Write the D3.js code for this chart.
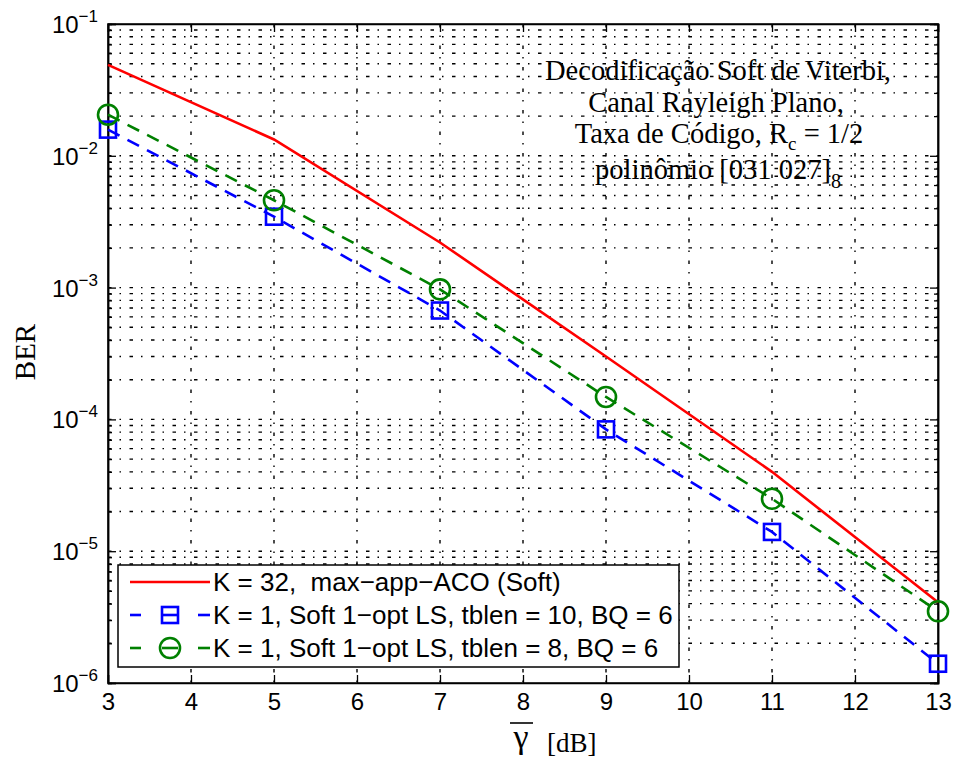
<!DOCTYPE html>
<html>
<head>
<meta charset="utf-8">
<script src="https://cdn.jsdelivr.net/npm/d3@7"></script>
<style>
  body { margin: 0; background: #fff; }
  svg text { fill: #000; }
</style>
</head>
<body>
<div id="chart"></div>
<script>
// SNR values (dB)
const snr = [3, 5, 7, 9, 11, 13];
// BER curves
const berAco = [4.9e-2, 1.33e-2, 2.2e-3, 3.0e-4, 4.0e-5, 4.1e-6];
const berTblen10 = [1.58e-2, 3.45e-3, 6.7e-4, 8.4e-5, 1.4e-5, 1.4e-6];
const berTblen8 = [2.05e-2, 4.6e-3, 9.7e-4, 1.48e-4, 2.5e-5, 3.5e-6];
const xTicks = [3, 4, 5, 6, 7, 8, 9, 10, 11, 12, 13];
const yDecades = [-6, -5, -4, -3, -2, -1];

const seriesNames = [
  "K = 32,\u00a0 max\u2212app\u2212ACO (Soft)",
  "K = 1, Soft 1\u2212opt LS, tblen = 10, BQ = 6",
  "K = 1, Soft 1\u2212opt LS, tblen = 8, BQ = 6"
];

const width = 955, height = 764;
const margin = { top: 24, right: 17, bottom: 81, left: 108 };
const w = width - margin.left - margin.right;
const h = height - margin.top - margin.bottom;

const svg = d3.select("#chart").append("svg")
  .attr("width", width)
  .attr("height", height);

const g = svg.append("g")
  .attr("transform", `translate(${margin.left},${margin.top})`);

const x = d3.scaleLinear().domain([3, 13]).range([0, w]);
const y = d3.scaleLog().domain([1e-6, 1e-1]).range([h, 0]);

// minor values inside each decade
const minorVals = [];
yDecades.slice(0, -1).forEach(k => {
  for (let m = 2; m <= 9; m++) minorVals.push(m * Math.pow(10, k));
});
const majorVals = yDecades.map(k => Math.pow(10, k));

// dotted grid (matlab style)
const gridDash = "3.5,8,1.5,8.5";
g.append("g").selectAll("line")
  .data(xTicks.slice(1, -1))
  .enter().append("line")
  .attr("x1", d => x(d)).attr("x2", d => x(d))
  .attr("y1", 0).attr("y2", h)
  .attr("stroke", "#000").attr("stroke-width", 1.4)
  .attr("stroke-dasharray", gridDash);

g.append("g").selectAll("line")
  .data(minorVals.concat(majorVals.slice(1, -1)))
  .enter().append("line")
  .attr("x1", 0).attr("x2", w)
  .attr("y1", d => y(d)).attr("y2", d => y(d))
  .attr("stroke", "#000").attr("stroke-width", 1.4)
  .attr("stroke-dasharray", gridDash);

// axes with inward ticks
const axisFont = "'Liberation Sans', Arial, sans-serif";
const xAxis = g.append("g")
  .attr("transform", `translate(0,${h})`)
  .call(d3.axisBottom(x).tickValues(xTicks).tickSize(-8).tickPadding(10).tickFormat(d3.format("d")));
xAxis.selectAll("text").attr("font-family", axisFont).attr("font-size", 24).attr("dy", "0.71em");

g.append("g")
  .call(d3.axisTop(x).tickValues(xTicks).tickSize(-8).tickFormat(""));

const yAxis = g.append("g")
  .call(d3.axisLeft(y).tickValues(majorVals).tickSize(-8).tickFormat(""));
yAxis.selectAll(".tick").append("text")
  .attr("x", -10).attr("dy", "0.35em")
  .attr("text-anchor", "end")
  .attr("font-family", axisFont)
  .attr("font-size", 24)
  .each(function (d) {
    const t = d3.select(this);
    t.append("tspan").text("10");
    t.append("tspan").attr("font-size", 17).attr("dy", -11).text("\u2212" + Math.round(-Math.log10(d)));
  });
g.append("g")
  .call(d3.axisLeft(y).tickValues(minorVals).tickSize(-4).tickFormat(""));
g.append("g")
  .attr("transform", `translate(${w},0)`)
  .call(d3.axisRight(y).tickValues(majorVals).tickSize(-8).tickFormat(""));
g.append("g")
  .attr("transform", `translate(${w},0)`)
  .call(d3.axisRight(y).tickValues(minorVals).tickSize(-4).tickFormat(""));

g.selectAll(".domain").attr("stroke", "#000").attr("stroke-width", 1.5);
g.selectAll(".tick line").attr("stroke", "#000").attr("stroke-width", 1.3);

// box
g.append("rect")
  .attr("width", w).attr("height", h)
  .attr("fill", "none").attr("stroke", "#000").attr("stroke-width", 1.5);

// curves
const line = d3.line().x(d => x(d[0])).y(d => y(d[1]));
const series = [
  { vals: berAco, color: "#ff0000", dash: null, marker: null },
  { vals: berTblen10, color: "#0000ff", dash: "13,9", marker: "square" },
  { vals: berTblen8, color: "#008000", dash: "13,9", marker: "circle" }
];

series.forEach(s => {
  const pts = snr.map((v, i) => [v, s.vals[i]]);
  g.append("path")
    .datum(pts)
    .attr("d", line)
    .attr("fill", "none")
    .attr("stroke", s.color)
    .attr("stroke-width", 2.6)
    .attr("stroke-dasharray", s.dash);
  if (s.marker === "square") {
    g.selectAll(null).data(pts).enter().append("rect")
      .attr("x", d => x(d[0]) - 8).attr("y", d => y(d[1]) - 8)
      .attr("width", 16).attr("height", 16)
      .attr("fill", "none").attr("stroke", s.color).attr("stroke-width", 2.6);
  } else if (s.marker === "circle") {
    g.selectAll(null).data(pts).enter().append("circle")
      .attr("cx", d => x(d[0])).attr("cy", d => y(d[1]))
      .attr("r", 10)
      .attr("fill", "none").attr("stroke", s.color).attr("stroke-width", 2.6);
  }
});

// annotation
const serif = "'Liberation Serif', 'Times New Roman', serif";
const note = svg.append("g")
  .attr("font-family", serif).attr("font-size", 28.5)
  .attr("text-anchor", "middle");
note.append("text").attr("x", 718).attr("y", 80).text("Decodifica\u00e7\u00e3o Soft de Viterbi,");
note.append("text").attr("x", 716).attr("y", 112).text("Canal Rayleigh Plano,");
const l3 = note.append("text").attr("x", 719).attr("y", 143);
l3.append("tspan").text("Taxa de C\u00f3digo, R");
l3.append("tspan").attr("font-size", 19).attr("dy", 7).text("c");
l3.append("tspan").attr("dy", -7).text(" = 1/2");
const l4 = note.append("text").attr("x", 718).attr("y", 179);
l4.append("tspan").text("polin\u00f4mio [031 027]");
l4.append("tspan").attr("font-size", 20).attr("dy", 9).text("8");

// legend
const lg = svg.append("g").attr("transform", "translate(118,565)");
lg.append("rect").attr("width", 561).attr("height", 102)
  .attr("fill", "#fff").attr("stroke", "#000").attr("stroke-width", 1.5);
series.forEach((s, i) => {
  const yy = 17 + i * 33;
  const row = lg.append("g").attr("transform", `translate(0,${yy})`);
  if (!s.marker) {
    row.append("line").attr("x1", 12).attr("x2", 92).attr("stroke", s.color).attr("stroke-width", 2.6);
  } else {
    row.append("line").attr("x1", 12).attr("x2", 23).attr("stroke", s.color).attr("stroke-width", 2.6);
    row.append("line").attr("x1", 80).attr("x2", 92).attr("stroke", s.color).attr("stroke-width", 2.6);
    row.append("line").attr("x1", 44).attr("x2", 60).attr("stroke", s.color).attr("stroke-width", 2.6);
    if (s.marker === "square") {
      row.append("rect").attr("x", 44).attr("y", -8).attr("width", 16).attr("height", 16)
        .attr("fill", "none").attr("stroke", s.color).attr("stroke-width", 2.6);
    } else {
      row.append("circle").attr("cx", 52).attr("r", 10)
        .attr("fill", "none").attr("stroke", s.color).attr("stroke-width", 2.6);
    }
  }
  row.append("text").attr("x", 95).attr("dy", "0.35em")
    .attr("font-family", axisFont).attr("font-size", 26)
    .text(seriesNames[i]);
});

// axis labels
svg.append("text")
  .attr("transform", "translate(35,352) rotate(-90)")
  .attr("text-anchor", "middle")
  .attr("font-family", serif).attr("font-size", 29)
  .text("BER");

const xl = svg.append("g").attr("font-family", serif);
xl.append("text").attr("x", 521).attr("y", 748).attr("text-anchor", "middle")
  .attr("font-size", 34).text("\u03b3");
xl.append("line").attr("x1", 510).attr("x2", 533).attr("y1", 723).attr("y2", 723)
  .attr("stroke", "#000").attr("stroke-width", 1.6);
xl.append("text").attr("x", 547).attr("y", 752).attr("font-size", 27).text("[dB]");
</script>
</body>
</html>
